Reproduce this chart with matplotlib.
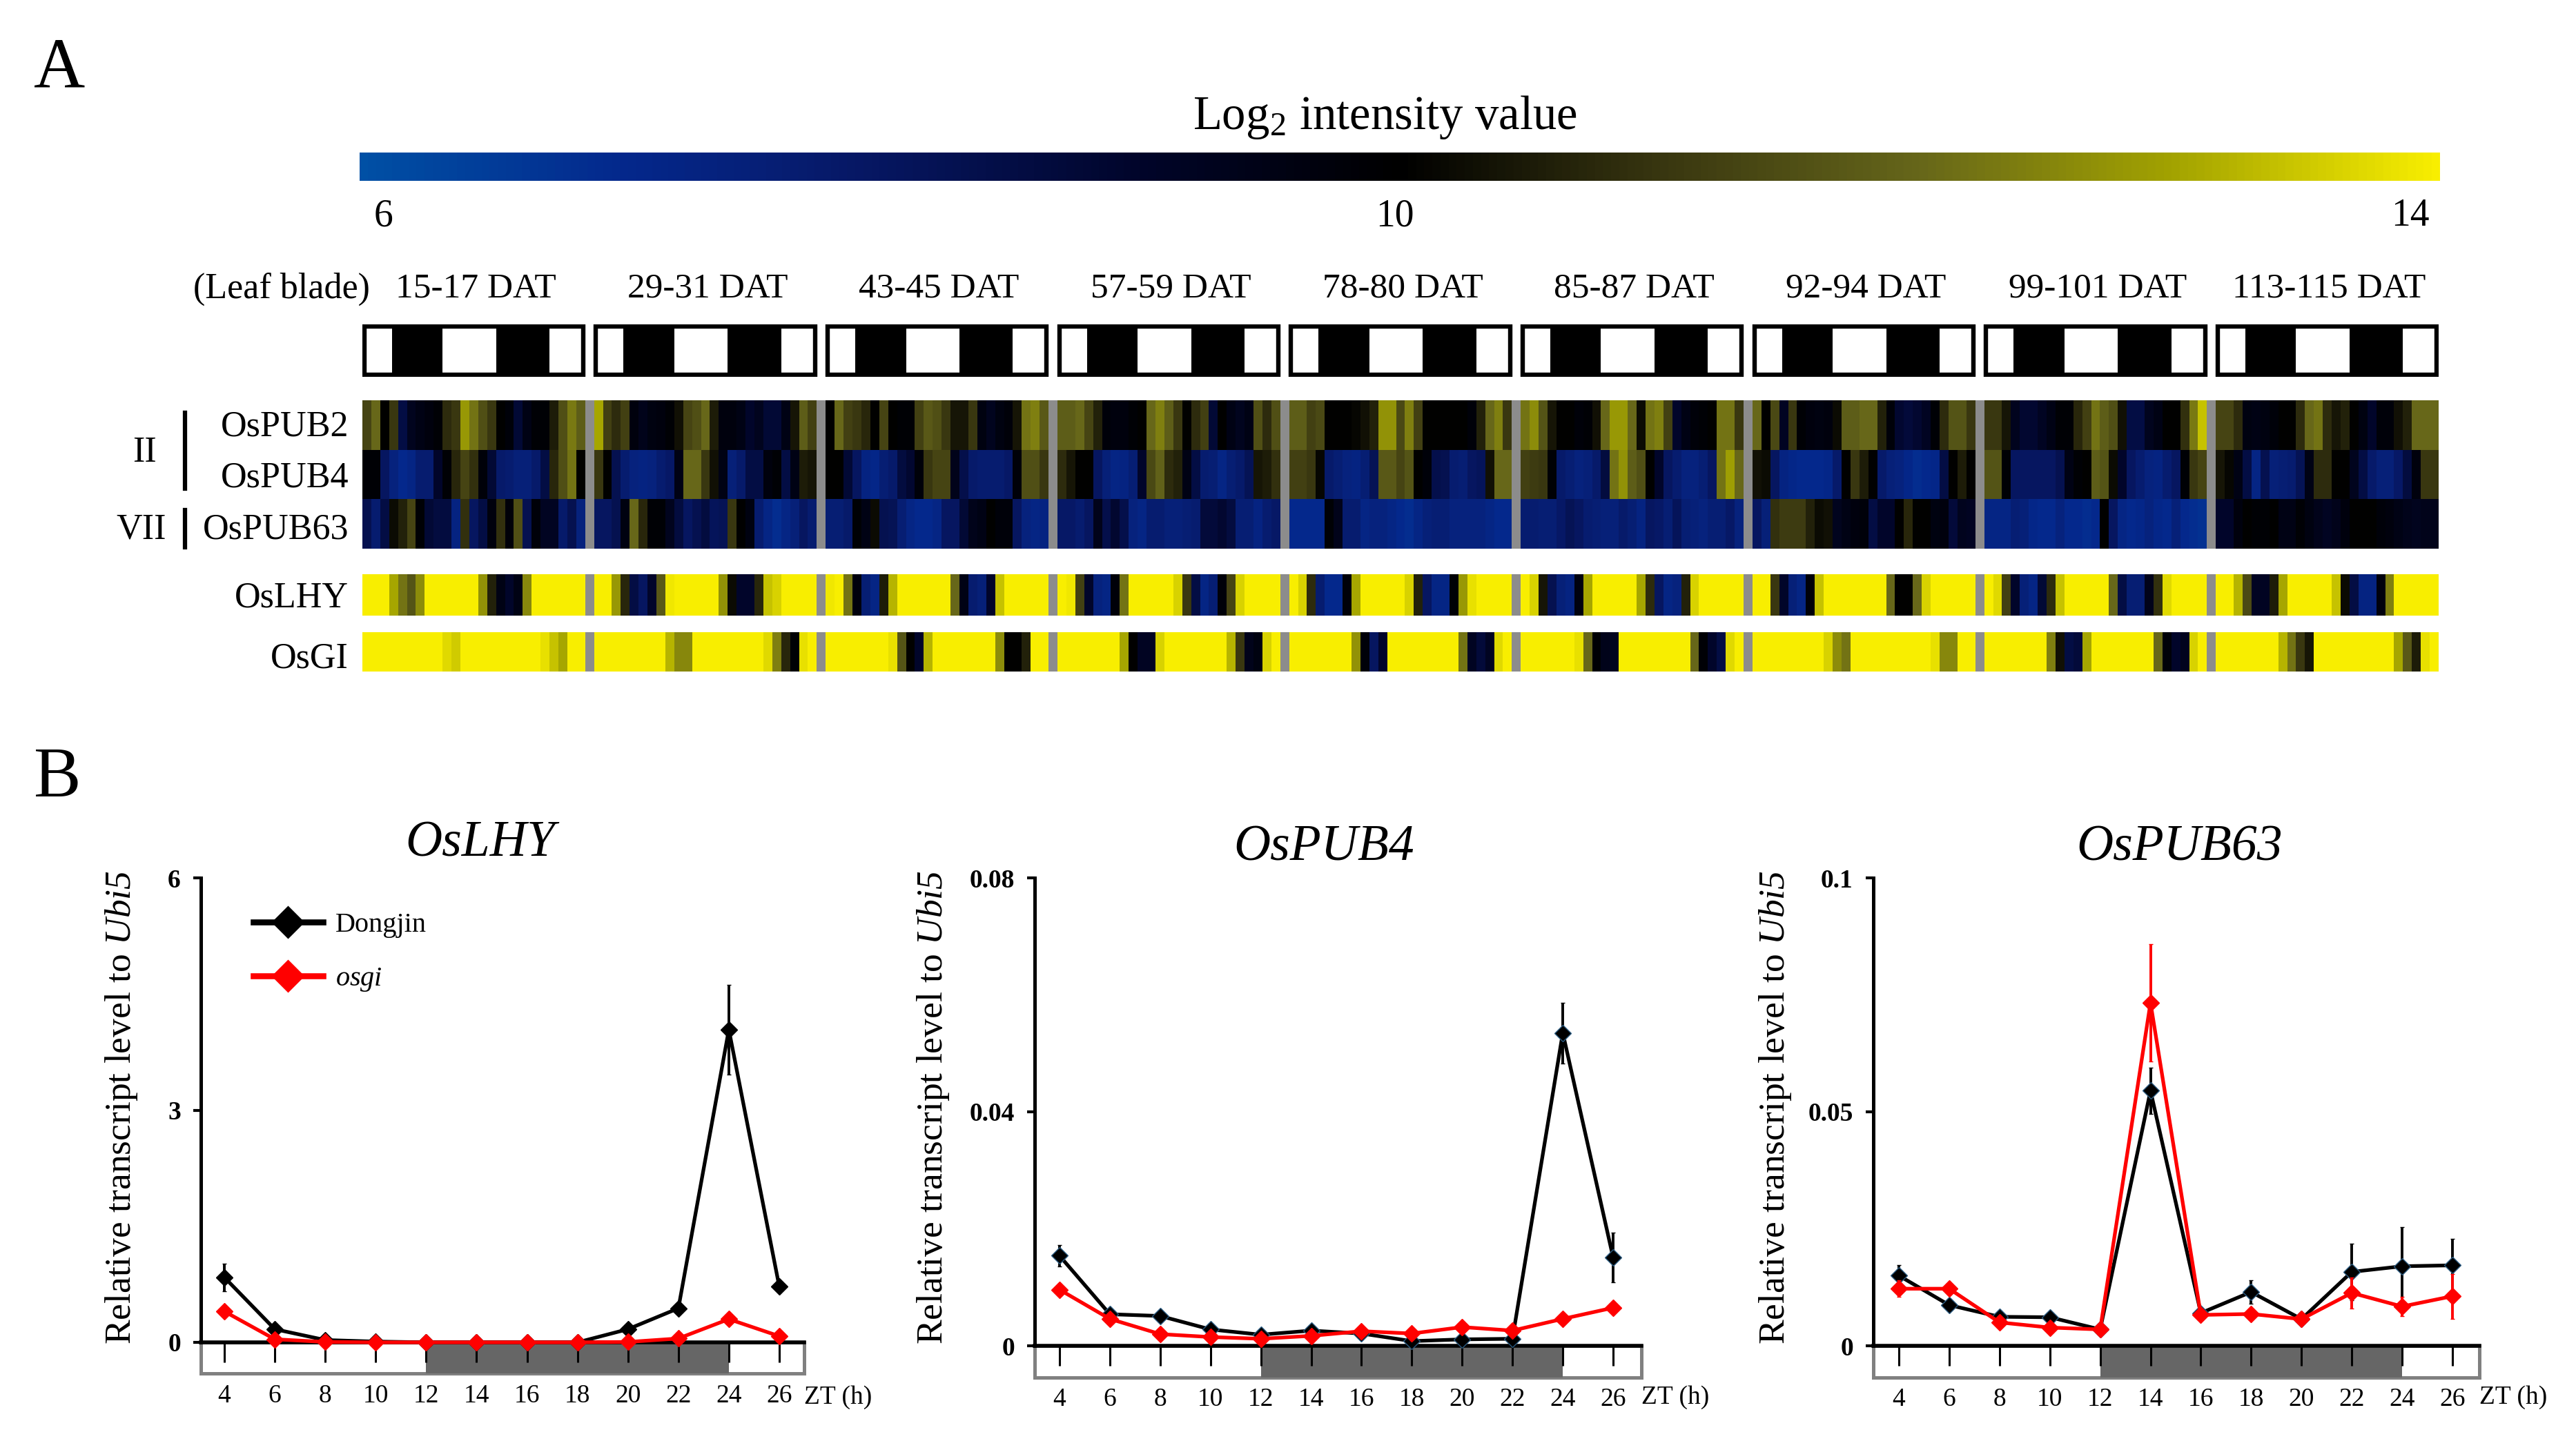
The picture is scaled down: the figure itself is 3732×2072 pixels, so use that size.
import numpy as np
import matplotlib
matplotlib.use('Agg')
import matplotlib.pyplot as plt
from matplotlib.colors import LinearSegmentedColormap
from matplotlib.lines import Line2D
from matplotlib.patches import Rectangle

plt.rcParams['font.family'] = ['Liberation Serif', 'DejaVu Serif']
plt.rcParams['mathtext.fontset'] = 'custom'
plt.rcParams['mathtext.rm'] = 'Liberation Serif'
plt.rcParams['mathtext.it'] = 'Liberation Serif:italic'
# mathit keeps digits upright, sf slot is used to get an italic 5 in Ubi5
plt.rcParams['mathtext.sf'] = 'Liberation Serif:italic'
plt.rcParams['mathtext.default'] = 'regular'

W = 3732
H = 2072

# Heat map data: log2 intensity, one list per sampling window
windows = ['15-17 DAT', '29-31 DAT', '43-45 DAT', '57-59 DAT', '78-80 DAT',
           '85-87 DAT', '92-94 DAT', '99-101 DAT', '113-115 DAT']
dark_spans = [(3.3, 9.0), (15.0, 21.0)]
cbar_ticks = [6, 10, 14]

OsPUB2 = [
    [11.3,12,10,11,8.5,9.3,9.5,9.7,9.9,10.8,11,12.8,12.2,11.5,11,10,9.8,8.8,9.5,9.9,9.9,10.5,11.5,12.3,11.8],
    [13,11.2,10.8,11.2,9.7,9.4,9.6,9.7,9.9,10.3,11.3,11.5,12,10.5,9.7,9.7,9.5,9,9.3,8.8,8.8,9.5,10.4,11.8,11.2],
    [10,12,11.2,11,10.7,10,11.3,10,9.9,9.9,11.2,11.7,11.5,11,10.4,10.4,11,9.6,9.3,9.6,9.8,10.4,12.2,12.4,11.7],
    [11.8,11.8,12,11.3,10.6,9.8,9.7,9.7,9.9,10,12,12.4,11.8,11,10,10.8,11.2,8.8,10,9.5,9.3,9.5,11.5,10.8,11.5],
    [11.8,11.8,11.2,11.4,10,10,10,10.1,10.3,10.6,12.7,12.7,11.4,12.4,11.2,10,10,10,10,10,9.8,10.6,12,12.4,11],
    [12.2,12.6,11.6,10.4,10,10,9.8,9.9,10.3,12,12.8,12.8,12,10.2,12.2,12.4,11.2,9,9.5,9.8,9.9,10,12.2,12.2,11],
    [12,10,11.4,9.2,11,9.9,9.7,9.6,9.7,10.2,11.8,11.8,12,12,10.6,9.8,8.9,8.7,8.9,9.2,9.9,10.8,11.6,11.6,11],
    [11,11,10.4,9.3,8.9,8.9,9.2,9.5,9.9,9.9,10.7,11.2,12.2,11.8,11.5,10.3,8.5,8.5,9.3,9.5,10,10,10.9,12.3,13.4],
    [11.3,11.3,10.8,9.6,9.5,9.6,9.8,10,10,10.8,12,12.2,10.8,10.4,10.6,10,9.6,9,9.8,9.8,10.3,10.6,12,12,12],
]
OsPUB4 = [
    [9.9,9.9,8,7.4,7,7.2,7.7,7.7,9,9.9,10.7,11.3,10.9,9.8,8.8,7.8,7.7,7.5,7.5,7.8,8.5,10.7,11.5,12.2,10],
    [11,10,8.3,7.7,7.4,7.3,7.4,7.7,7.9,9.5,12,12,11,10.3,9.5,7.5,7.8,8.5,8.5,9.7,9.9,8.5,9.5,10.5,10.4],
    [10,10,8.8,8,7.3,7.1,7.6,7.8,8.6,8.9,9.8,11,11.3,11.3,9.4,8.4,7.8,7.7,7.7,7.7,7.9,9.8,11.5,11.5,11],
    [10.8,10.4,10,10,8,7.5,7.2,7.3,7.6,9,11.4,11.9,10.8,10.6,9.5,8.5,7.7,7.6,7.2,7.6,7.8,8.2,10.4,10.5,10.9],
    [11.2,11.2,11,10.1,7.8,7.6,7.4,7.3,7.6,8.2,11.7,11.7,11.3,11.6,10,9.8,8.4,8.3,7.7,7.6,8,8.1,10.3,12,12],
    [11.2,11.1,11,9.9,7.8,7.6,7.4,7.5,7.8,8.6,12.2,12.7,11.8,11.5,10,9,8,7.7,7.4,7.4,7.6,8,12.2,12.9,12],
    [10.3,10.2,8,7.3,7.1,7,7,7,7.1,7.8,10,11,10.5,10,7.8,7.5,7.4,7.1,6.9,7,7.1,8.5,10,10.5,10],
    [11.6,11.6,9.9,8,8,8,8,8,8.3,9.5,9.9,10,11.8,11.6,10.2,9,8,7.7,7.4,7.3,7.7,8,9.9,11,11.3],
    [10.4,10.1,9.5,8.5,7.2,8.3,7.5,7.6,7.7,8.2,9.5,10.8,10.8,10,10,9.3,8.5,7.8,7.5,7.5,7.9,8.6,9.7,11,11],
]
OsPUB63 = [
    [8.3,7.7,8.5,10.2,10.6,11.3,9.9,8.8,8.6,8.6,7.3,10.9,8,8.5,9.7,10.9,9.8,11.5,8.3,9.8,9.2,9.2,7.8,8.3,7.4],
    [8,8,8.3,9.6,12,10.7,9.9,9.9,9.3,8.6,8,8.3,8.6,8.1,8.2,11,10,9.6,7.7,7.2,6.9,7.2,7.5,8,7.7],
    [7.6,7.6,7.8,9.9,9.5,10.2,8.3,8.2,7.6,7.2,7,7,7.2,8,8,8.8,9.4,9.5,10,9.8,9.8,8,7.4,7.2,7.3],
    [7.9,7.9,7.7,8,9.4,8.4,8.9,8.4,7.4,7.2,7.7,7.7,7.5,7.5,7.6,7.7,8.7,8.7,8.9,8.6,7.6,7.6,7.3,7.7,7.9],
    [7,7,7,7,9.9,9.4,7.7,7.7,7.2,7.4,7.4,7.2,7,6.9,7.2,7.5,7.6,7.6,7.4,7.4,7.4,7.4,7.2,7,7],
    [7.7,7.7,7.6,7.6,7.9,8.2,8,7.7,7.6,7.5,7.5,7.8,7.6,7.3,8,7.9,7.6,8.1,7.6,7.5,7.4,7.6,7.6,7.9,7.4],
    [8,7.5,10.9,11.1,11.1,11.1,10.6,10.2,10.3,9.3,9.5,9.7,9.8,8.5,9,9,10,10.7,10,10,9.6,9.7,8.7,9.3,9.2],
    [7.2,7.2,7.2,7.6,7.5,7.1,7,7,7.4,7,7,6.9,7,10,8,7.2,7,7.1,7.4,7.1,7,7.5,7,6.9,6.8],
    [9,9,9.7,10,9.9,9.9,10,9.5,9.5,9.9,9.6,9.4,9.2,9.4,9.7,10,10,10,9.8,9.7,9.5,9.4,9.3,9.4,9.4],
]
OsLHY_heat = [
    [14,14,14,13,12.2,11.6,12.6,14,14,14,14,14,14,12.7,10.6,9.5,9,9.5,12.5,14,14,14,14,14,14],
    [14,14,12.8,10.7,8.5,8,9,11.7,13.9,14,14,14,14,14,12.7,10.2,9,9,10.7,13.4,13.6,14,14,14,14],
    [13.9,14,12.2,9.7,7.6,7.2,10.5,13.2,14,14,14,14,14,14,12,9.5,7.7,7.5,9,13.4,14,14,14,14,14],
    [14,13.9,11.2,9,7.4,7.2,9.8,12.2,14,14,14,14,14,13.6,11,8.5,7.2,7.6,9.8,11.3,13.6,14,14,14,14],
    [14,13.6,10.8,7.7,7,7,9.8,13,14,14,14,14,14,13.6,10.6,8,7.2,7.2,9.9,12.8,13.8,14,14,14,14],
    [14,13.6,10.4,8.3,7.5,7.3,9.6,13,14,14,14,14,14,13,10.8,8,7.2,7.4,10.6,13.6,14,14,14,14,14],
    [14,14,11,9,7.5,7.2,9.8,13.4,14,14,14,14,14,14,14,12,10,10,12,13.6,14,14,14,14,14],
    [14,13.7,11.2,9,7.5,7.2,8.8,10.8,13.4,14,14,14,14,14,12,8.5,7.6,7.6,9.4,10.9,13.7,14,14,14,14],
    [14,14,13.2,11.4,9.2,9.2,10.5,13,14,14,14,14,14,13.4,10.2,8.5,7.3,7.3,9.7,12.4,14,14,14,14,14],
]
OsGI_heat = [
    [14,14,14,14,14,14,14,14,14,13.7,13.5,14,14,14,14,14,14,14,14,14,13.8,13.4,13,14,14],
    [14,14,14,14,14,14,14,14,13.2,12.5,12.5,14,14,14,14,14,14,14,14,13.7,12.4,10.7,9.9,13.8,14],
    [14,14,14,14,14,14,14,13.8,11.6,10,9,13.2,14,14,14,14,14,14,14,12.6,10,10,10.6,14,14],
    [14,14,14,14,14,14,14,13,10,9.2,9.2,13.6,14,14,14,14,14,14,14,13.2,11,9.4,9.6,13.6,14],
    [14,14,14,14,14,14,14,12.7,9.8,8,9,14,14,14,14,14,14,14,14,12.2,9.2,8.7,9.2,13.7,14],
    [14,14,14,14,14,14,13.8,12,9.9,9.4,9.3,14,14,14,14,14,14,14,14,12,9.9,9,8.5,13.7,14],
    [14,14,14,14,14,14,14,14,13.6,12.6,12.2,14,14,14,14,14,14,14,14,14,13.8,12.5,12.5,14,14],
    [14,14,14,14,14,14,14,12.4,10.3,8.5,8.7,13,14,14,14,14,14,14,14,12,9.8,9,9.3,13.6,14],
    [14,14,14,14,14,14,14,13.2,12.2,11,10.4,14,14,14,14,14,14,14,14,14,13,11.7,10.5,13.8,14],
]

# Time course data
zt = [4, 6, 8, 10, 12, 14, 16, 18, 20, 22, 24, 26]

lhy_dj = [0.84, 0.17, 0.03, 0.01, 0.0, 0.0, 0.0, 0.0, 0.17, 0.44, 4.04, 0.72]
lhy_dj_err = [0.18, 0.03, 0, 0, 0, 0, 0, 0, 0.02, 0.02, 0.58, 0.02]
lhy_os = [0.40, 0.04, 0.005, 0.0, 0.0, 0.0, 0.0, 0.0, 0.005, 0.05, 0.30, 0.08]
lhy_os_err = [0.02, 0.01, 0, 0, 0, 0, 0, 0, 0, 0.01, 0.03, 0.01]

pub4_dj = [0.0154, 0.0054, 0.0051, 0.0028, 0.0019, 0.0026, 0.0021, 0.0008, 0.0011, 0.0012, 0.0535, 0.0151]
pub4_dj_err = [0.0018, 0.0003, 0.0003, 0.0002, 0.0001, 0.0002, 0.0002, 0.0001, 0.0001, 0.0001, 0.0052, 0.0042]
pub4_os = [0.0096, 0.0046, 0.0020, 0.0015, 0.0012, 0.0017, 0.0025, 0.0021, 0.0032, 0.0026, 0.0046, 0.0065]
pub4_os_err = [0.0004, 0.0003, 0.0002, 0.0002, 0.0001, 0.0002, 0.0002, 0.0002, 0.0002, 0.0002, 0.0003, 0.0003]

pub63_dj = [0.0150, 0.0087, 0.0062, 0.0061, 0.0035, 0.0545, 0.0070, 0.0115, 0.0057, 0.0158, 0.0170, 0.0172]
pub63_dj_err = [0.0023, 0.0008, 0.0004, 0.0004, 0.0002, 0.0049, 0.0004, 0.0025, 0.0004, 0.0060, 0.0084, 0.0056]
pub63_os = [0.0122, 0.0122, 0.0050, 0.0039, 0.0035, 0.0733, 0.0066, 0.0068, 0.0057, 0.0113, 0.0084, 0.0106]
pub63_os_err = [0.0018, 0.0010, 0.0004, 0.0004, 0.0002, 0.0125, 0.0004, 0.0006, 0.0004, 0.0033, 0.0020, 0.0048]

# blue - black - yellow scale
heat_cmap = LinearSegmentedColormap.from_list('heat', [
    (0.00, '#0050a5'), (0.125, '#04288c'), (0.1875, '#062078'), (0.25, '#061660'), (0.375, '#01052a'),
    (0.50, '#000000'), (0.625, '#383610'), (0.75, '#66661a'), (0.875, '#a4a400'),
    (1.00, '#f8ee00')])
heat_cmap.set_bad('#8c8c8c')


def px_axes(x0, y0, x1, y1):
    return fig.add_axes([x0 / W, 1 - y1 / H, (x1 - x0) / W, (y1 - y0) / H])


def px_text(x, y, s, **kw):
    kw.setdefault('ha', 'center')
    kw.setdefault('va', 'center')
    return fig.text(x / W, 1 - (y + 6) / H, s, **kw)


def with_gaps(row):
    out = []
    for i, win in enumerate(row):
        if i > 0:
            out.append(np.nan)
        out.extend(win)
    return out


def draw_heat(ax, rows):
    data = np.ma.masked_invalid(np.array([with_gaps(r) for r in rows]))
    ax.pcolormesh(data, cmap=heat_cmap, vmin=6, vmax=14)
    ax.invert_yaxis()
    ax.axis('off')


fig = plt.figure(figsize=(W / 100, H / 100), dpi=100)

heat_x0 = 525
heat_x1 = 3533

# Panel A
px_text(86, 95, 'A', fontsize=74)
px_text(83, 1123, 'B', fontsize=74)

px_text(2006, 164, 'Log$_2$ intensity value', fontsize=49.5)
ax_cb = px_axes(521, 221, 3535, 262)
ax_cb.imshow(np.linspace(6, 14, 512).reshape(1, -1), cmap=heat_cmap, aspect='auto',
             vmin=6, vmax=14, extent=[6, 14, 0, 1])
ax_cb.axis('off')
for tick, xp in zip(cbar_ticks, [555, 2021, 3492]):
    px_text(xp, 307, str(tick), fontsize=40)

# light/dark boxes
ax_ld = px_axes(heat_x0, 470, heat_x1, 546)
ax_ld.set_xlim(0, 233)
ax_ld.set_ylim(0, 1)
ax_ld.axis('off')
for i, name in enumerate(windows):
    start = 26 * i
    ax_ld.add_patch(Rectangle((start + 0.2, 0.04), 24.6, 0.92, fc='white', ec='black', lw=4.6))
    for d0, d1 in dark_spans:
        ax_ld.add_patch(Rectangle((start + d0, 0), d1 - d0, 1, fc='black', ec='none'))
    xp = heat_x0 + (start + 12.5) * (heat_x1 - heat_x0) / 233
    px_text(xp + 3, 412, name, fontsize=37)
px_text(408, 413, '(Leaf blade)', fontsize=37.5)

ax_h = px_axes(heat_x0, 580, heat_x1, 795)
draw_heat(ax_h, [OsPUB2, OsPUB4, OsPUB63])
ax_lhy = px_axes(heat_x0, 832, heat_x1, 892)
draw_heat(ax_lhy, [OsLHY_heat])
ax_gi = px_axes(heat_x0, 916, heat_x1, 973)
draw_heat(ax_gi, [OsGI_heat])

for name, yp in zip(['OsPUB2', 'OsPUB4', 'OsPUB63', 'OsLHY', 'OsGI'], [612, 686, 762, 860, 948]):
    px_text(505, yp, name, fontsize=37.5, ha='right')
px_text(209, 650, 'II', fontsize=37.5)
px_text(205, 762, 'VII', fontsize=37.5)
fig.add_artist(Line2D([268 / W, 268 / W], [1 - 598 / H, 1 - 708 / H], color='black', lw=4.5))
fig.add_artist(Line2D([268 / W, 268 / W], [1 - 739 / H, 1 - 793 / H], color='black', lw=4.5))


def time_panel(title, title_xy, ylab_x, spine_x, x4, x26, box_right, y_top, y_zero, box_bottom,
               ymax, yticks, ytick_labels, black, black_err, red, red_err, edge):
    ax = px_axes(spine_x, y_top, box_right, box_bottom)
    per_h = (x26 - x4) / 22
    ax.set_xlim(4 - (x4 - spine_x) / per_h, 26 + (box_right - x26) / per_h)
    per_val = (y_zero - y_top) / ymax
    ylo = -(box_bottom - y_zero) / per_val
    ax.set_ylim(ylo, ymax)
    ax.patch.set_alpha(0)

    # day/night box below the axis
    xl = ax.get_xlim()
    ax.add_patch(Rectangle((xl[0], ylo), xl[1] - xl[0], -ylo, fc='white', ec='#808080', lw=3.6,
                           zorder=1, clip_on=False))
    ax.add_patch(Rectangle((12, ylo), 12, -ylo, fc='#666666', ec='none', zorder=1.5))

    for yv, err, col, ec, z in [(black, black_err, 'black', edge, 3), (red, red_err, '#ff0000', '#ff0000', 4)]:
        ax.errorbar(zt, yv, yerr=err, color=col, lw=3.8, elinewidth=2.8, capsize=2.5, capthick=2.4,
                    marker='D', ms=12.5, mfc=col, mec=ec, mew=1.0, zorder=z, clip_on=False)

    for s in ['top', 'right']:
        ax.spines[s].set_visible(False)
    ax.spines['left'].set_bounds(0, ymax)
    ax.spines['left'].set_linewidth(3.6)
    ax.spines['bottom'].set_position(('data', 0))
    ax.spines['bottom'].set_linewidth(4.0)
    ax.spines['bottom'].set_zorder(2)
    ax.set_xticks(zt)
    ax.set_xticklabels([str(v) for v in zt], fontsize=27)
    ax.tick_params(axis='x', length=21, width=2.2, pad=22.5)
    ax.set_yticks(yticks)
    ax.set_yticklabels(ytick_labels, fontsize=27, fontweight='bold')
    ax.tick_params(axis='y', length=8, width=3, pad=13)

    px_text(box_right, 2019, 'ZT (h)', fontsize=27, ha='left')
    px_text(title_xy[0], title_xy[1], title, fontsize=53, style='italic')
    px_text(ylab_x + 5, 1599, r'Relative transcript level to $\mathsf{Ubi5}$', fontsize=38.5, rotation=90)
    return ax


ax1 = time_panel('OsLHY', (696, 1217), 171, 291, 325, 1129, 1165, 1272, 1945, 1990,
                 6, [0, 3, 6], ['0', '3', '6'], lhy_dj, lhy_dj_err, lhy_os, lhy_os_err, 'black')
ax2 = time_panel('OsPUB4', (1918, 1223), 1347, 1499, 1535, 2337, 2378, 1272, 1950, 1996,
                 0.08, [0, 0.04, 0.08], ['0', '0.04', '0.08'], pub4_dj, pub4_dj_err, pub4_os, pub4_os_err, '#2a5a80')
ax3 = time_panel('OsPUB63', (3158, 1223), 2567, 2714, 2751, 3553, 3592, 1272, 1950, 1996,
                 0.1, [0, 0.05, 0.1], ['0', '0.05', '0.1'], pub63_dj, pub63_dj_err, pub63_os, pub63_os_err, '#2a5a80')

handles = [Line2D([], [], color='black', lw=6.2, marker='D', ms=24, mec='none'),
           Line2D([], [], color='#ff0000', lw=6.2, marker='D', ms=24, mec='none')]
fig.legend(handles, ['Dongjin', r'$\mathit{osgi}$'], loc='upper left', bbox_to_anchor=(367 / W, 1 - 1322 / H),
           frameon=False, fontsize=29, borderpad=0, borderaxespad=0, handlelength=2.5, handletextpad=0.45,
           labelspacing=1.0, numpoints=1)

fig.savefig('out.png', dpi=100)
